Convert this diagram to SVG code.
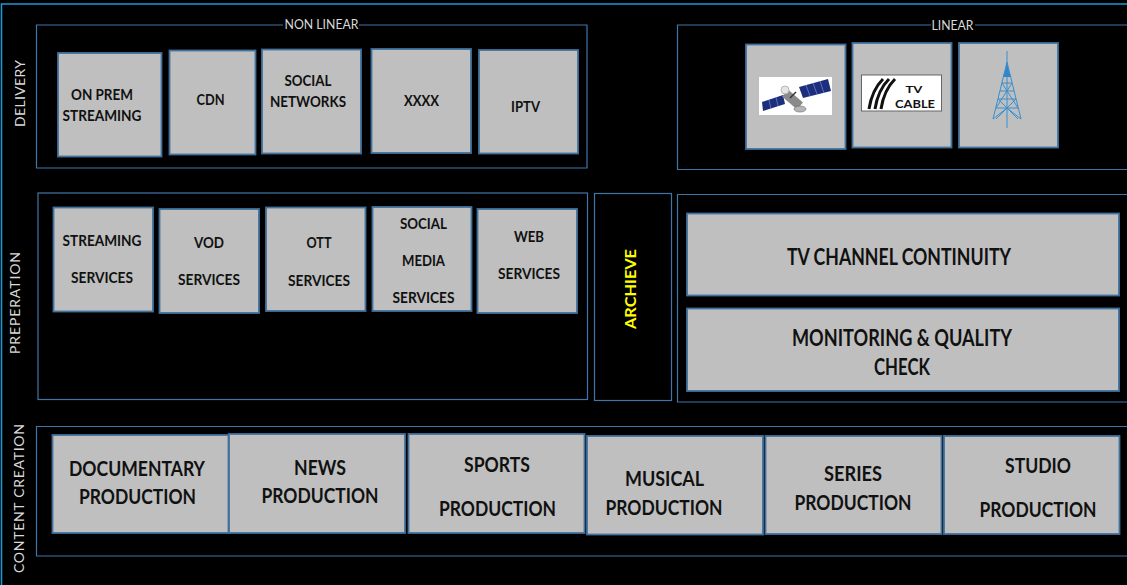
<svg xmlns="http://www.w3.org/2000/svg" width="1127" height="585" viewBox="0 0 1127 585">
<style>
.outer{fill:none;stroke:#1b9ad6;stroke-width:1.5}
.panel{fill:none;stroke:#3f76a8;stroke-width:1.2}
.box{fill:#bfbfbf;stroke:#41719c;stroke-width:1.8}
text{font-family:"Lato","Liberation Sans",sans-serif;text-anchor:middle}
.b{font-weight:700;fill:#111;font-size:16px}
.m{font-weight:700;fill:#111;font-size:20.500px}
.l{font-weight:700;fill:#111;font-size:22px}
.s{fill:#d9d9d9;font-size:14px}
.t{fill:#d9d9d9;font-size:13.500px}
</style>
<rect width="1127" height="585" fill="#000"/>
<g id="frames">
<path class="outer" d="M1127 4H1.500V585"/>
<path class="panel" d="M283 25H36.500V168H587V25H359"/>
<path class="panel" d="M1127 25H975M931 25H677.500V169.500H1127"/>
<rect class="panel" x="38" y="193" width="549.500" height="206.500"/>
<rect class="panel" x="594.500" y="193.500" width="77" height="207"/>
<path class="panel" d="M1127 194.500H677.500V402H1127"/>
<path class="panel" d="M1127 426.500H36.500V556H1127"/>
</g>
<g id="connectors"></g>
<g id="section-labels">
<text class="s" transform="translate(24.500 93.500) rotate(-90)" textLength="67">DELIVERY</text>
<text class="s" transform="translate(20 303) rotate(-90)" textLength="102">PREPERATION</text>
<text class="s" transform="translate(24 498.500) rotate(-90)" textLength="149">CONTENT CREATION</text>
<text class="t" x="321.500" y="29" textLength="74" lengthAdjust="spacingAndGlyphs">NON LINEAR</text>
<text class="t" x="952.500" y="30" textLength="42" lengthAdjust="spacingAndGlyphs">LINEAR</text>
</g>
<g id="on-prem"><rect class="box" x="58" y="53" width="103.500" height="103.500"/><text class="b" x="102" y="100" textLength="62" lengthAdjust="spacingAndGlyphs">ON PREM</text><text class="b" x="102" y="121" textLength="79" lengthAdjust="spacingAndGlyphs">STREAMING</text></g>
<g id="cdn"><rect class="box" x="169.500" y="50.500" width="86" height="104"/><text class="b" x="210.500" y="105" textLength="28" lengthAdjust="spacingAndGlyphs">CDN</text></g>
<g id="social-networks"><rect class="box" x="262" y="49.500" width="99" height="104"/><text class="b" x="308" y="86" textLength="47" lengthAdjust="spacingAndGlyphs">SOCIAL</text><text class="b" x="308" y="107" textLength="76" lengthAdjust="spacingAndGlyphs">NETWORKS</text></g>
<g id="xxxx"><rect class="box" x="371.500" y="49" width="99.500" height="104"/><text class="b" x="421.500" y="106" textLength="35" lengthAdjust="spacingAndGlyphs">XXXX</text></g>
<g id="iptv"><rect class="box" x="479" y="50" width="99" height="103.500"/><text class="b" x="525.500" y="112" textLength="29" lengthAdjust="spacingAndGlyphs">IPTV</text></g>
<g id="satellite"><rect class="box" x="746" y="44.500" width="99.500" height="104.500"/>
<rect x="759" y="77" width="73" height="38" fill="#fff"/>
<path d="M762 102L783 95L785 104L763 111Z" fill="#1c2f7e"/>
<path d="M799 87L828 79L831 91L803 98Z" fill="#1c2f7e"/>
<path d="M806 85L810 96M813 83L817 94M820 81L824 93M769 100L771 109M776 97L778 106" stroke="#8d9ac8" stroke-width=".6"/>
<path d="M785 93L800 106" stroke="#8a8a8a" stroke-width="9"/>
<circle cx="785" cy="90" r="4" fill="#e4e4e4" stroke="#aaa" stroke-width=".8"/>
<ellipse cx="800" cy="109" rx="6" ry="3" fill="#b5b5b5" stroke="#666" stroke-width=".6"/>
<path d="M790 98L796 92" stroke="#333" stroke-width="1.500"/>
</g>
<g id="tv-cable"><rect class="box" x="852.500" y="43" width="99" height="104.500"/>
<rect x="861.500" y="75" width="80" height="36" fill="#fff" stroke="#666" stroke-width="1"/>
<path d="M869 109C871 96 876 86 883 79M875 109C877 96 882 86 889 79M881 109C883 96 888 86 895 79" fill="none" stroke="#111" stroke-width="3"/>
<text x="914" y="93" font-size="10" font-weight="700" fill="#111" font-family="Liberation Sans" textLength="17" lengthAdjust="spacingAndGlyphs">TV</text>
<text x="915" y="107.500" font-size="12" font-weight="700" fill="#111" font-family="Liberation Sans" textLength="40" lengthAdjust="spacingAndGlyphs">CABLE</text>
</g>
<g id="tower"><rect class="box" x="959" y="43" width="99" height="104.500"/>
<path d="M1007 51V128M1007 62L993 119M1007 62L1021 119M993 119L1007 108L1021 119M996 108L1018 108M998 99L1016 99M1000 91L1014 91M1002 83L1012 83M1003 75L1011 75M996 108L1012 83M1018 108L1002 83M998 99L1018 119M1016 99L996 119" fill="none" stroke="#3a8fd0" stroke-width="1"/>
<path d="M1007 63L1003.500 77H1010.500Z" fill="#2f86c9"/>
</g>
<g id="streaming"><rect class="box" x="53.500" y="207.500" width="99.500" height="104"/><text class="b" x="102" y="246" textLength="79" lengthAdjust="spacingAndGlyphs">STREAMING</text><text class="b" x="102" y="283" textLength="62" lengthAdjust="spacingAndGlyphs">SERVICES</text></g>
<g id="vod"><rect class="box" x="159.500" y="209" width="99.500" height="104"/><text class="b" x="209" y="248" textLength="30" lengthAdjust="spacingAndGlyphs">VOD</text><text class="b" x="209" y="285" textLength="62" lengthAdjust="spacingAndGlyphs">SERVICES</text></g>
<g id="ott"><rect class="box" x="266" y="207.500" width="99.500" height="103.500"/><text class="b" x="319" y="248" textLength="25" lengthAdjust="spacingAndGlyphs">OTT</text><text class="b" x="319" y="286" textLength="62" lengthAdjust="spacingAndGlyphs">SERVICES</text></g>
<g id="social-media"><rect class="box" x="372.500" y="207" width="99" height="104"/><text class="b" x="423.500" y="229" textLength="47" lengthAdjust="spacingAndGlyphs">SOCIAL</text><text class="b" x="423.500" y="266" textLength="43" lengthAdjust="spacingAndGlyphs">MEDIA</text><text class="b" x="423.500" y="303" textLength="62" lengthAdjust="spacingAndGlyphs">SERVICES</text></g>
<g id="web"><rect class="box" x="477.500" y="209" width="99.500" height="104"/><text class="b" x="529" y="242" textLength="30" lengthAdjust="spacingAndGlyphs">WEB</text><text class="b" x="529" y="279" textLength="62" lengthAdjust="spacingAndGlyphs">SERVICES</text></g>
<g id="archive"><text transform="translate(636 289) rotate(-90)" font-size="15.500" font-weight="700" fill="#ffff00" textLength="80" lengthAdjust="spacingAndGlyphs">ARCHIEVE</text></g>
<g id="continuity"><rect class="box" x="687" y="213.500" width="432" height="82"/><text class="l" x="899" y="265" textLength="224" lengthAdjust="spacingAndGlyphs">TV CHANNEL CONTINUITY</text></g>
<g id="monitoring"><rect class="box" x="687" y="308.500" width="432" height="82.500"/><text class="l" x="902" y="346" textLength="220" lengthAdjust="spacingAndGlyphs">MONITORING &amp; QUALITY</text><text class="l" x="902" y="375" textLength="56" lengthAdjust="spacingAndGlyphs">CHECK</text></g>
<g id="documentary"><rect class="box" x="52.500" y="435" width="176" height="98"/><text class="m" x="137" y="476" textLength="136" lengthAdjust="spacingAndGlyphs">DOCUMENTARY</text><text class="m" x="137.500" y="504" textLength="117" lengthAdjust="spacingAndGlyphs">PRODUCTION</text></g>
<g id="news"><rect class="box" x="229" y="434" width="176" height="99"/><text class="m" x="320" y="475" textLength="52" lengthAdjust="spacingAndGlyphs">NEWS</text><text class="m" x="320" y="503" textLength="117" lengthAdjust="spacingAndGlyphs">PRODUCTION</text></g>
<g id="sports"><rect class="box" x="408.500" y="434" width="176" height="99"/><text class="m" x="497" y="472" textLength="66" lengthAdjust="spacingAndGlyphs">SPORTS</text><text class="m" x="497.500" y="516" textLength="117" lengthAdjust="spacingAndGlyphs">PRODUCTION</text></g>
<g id="musical"><rect class="box" x="587" y="436" width="176" height="98.500"/><text class="m" x="664.500" y="486" textLength="79" lengthAdjust="spacingAndGlyphs">MUSICAL</text><text class="m" x="664" y="515" textLength="117" lengthAdjust="spacingAndGlyphs">PRODUCTION</text></g>
<g id="series"><rect class="box" x="765.500" y="436" width="176" height="98"/><text class="m" x="853" y="481" textLength="58" lengthAdjust="spacingAndGlyphs">SERIES</text><text class="m" x="853" y="510" textLength="117" lengthAdjust="spacingAndGlyphs">PRODUCTION</text></g>
<g id="studio"><rect class="box" x="944" y="436" width="175.500" height="98"/><text class="m" x="1038" y="473" textLength="66" lengthAdjust="spacingAndGlyphs">STUDIO</text><text class="m" x="1038" y="517" textLength="117" lengthAdjust="spacingAndGlyphs">PRODUCTION</text></g>
</svg>
